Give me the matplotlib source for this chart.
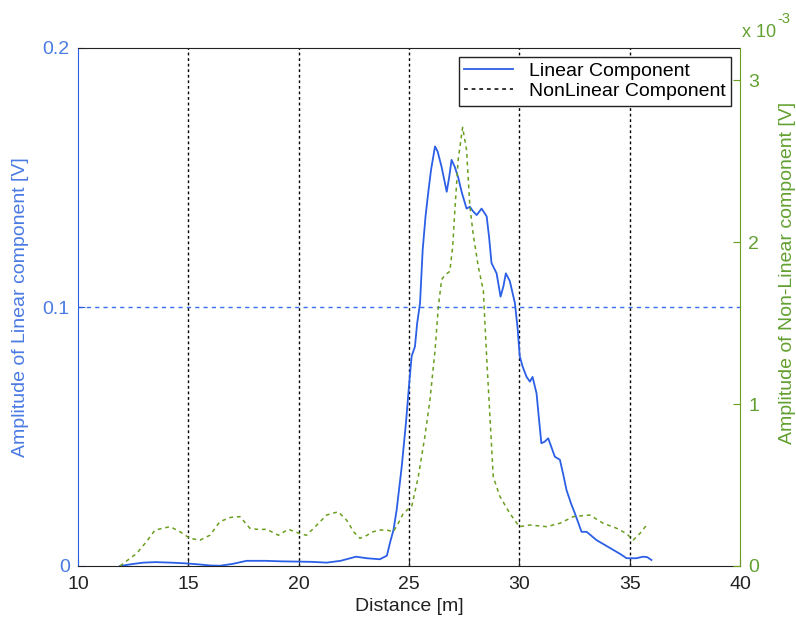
import matplotlib
matplotlib.use("Agg")
import matplotlib.pyplot as plt
from matplotlib.lines import Line2D

plt.rcParams['font.family'] = ['Liberation Sans', 'DejaVu Sans']

# ---- data ----
linear_x = [11.9, 12.5, 12.96, 13.5, 14.2, 14.92, 15.5, 16.0, 16.43, 17.0,
            17.64, 18.5, 19.2, 19.9, 20.6, 21.27, 21.9, 22.6, 23.08, 23.68,
            24.0, 24.14, 24.3, 24.44, 24.67, 24.86, 25.01, 25.12, 25.27, 25.37,
            25.5, 25.62, 25.75, 25.87, 26.0, 26.18, 26.3, 26.48, 26.6, 26.71,
            26.82, 26.93, 27.08, 27.23, 27.4, 27.61, 27.76, 27.9, 28.07, 28.29,
            28.52, 28.63, 28.74, 28.97, 29.15, 29.28, 29.39, 29.57, 29.8, 29.92,
            30.02, 30.15, 30.33, 30.48, 30.6, 30.78, 30.9, 31.0, 31.15, 31.31,
            31.45, 31.61, 31.84, 32.0, 32.14, 32.35, 32.52, 32.82, 33.05, 33.5,
            33.9, 34.26, 34.6, 34.86, 35.1, 35.31, 35.61, 35.8, 35.99]
linear_y = [0.0, 0.0008, 0.0013, 0.0015, 0.0013, 0.001, 0.0006, 0.0002, 0.0001, 0.0008,
            0.0020, 0.0020, 0.0018, 0.0017, 0.0016, 0.0013, 0.0020, 0.0036, 0.0030, 0.0026,
            0.004, 0.009, 0.014, 0.0216, 0.0383, 0.055, 0.0705, 0.081, 0.0847, 0.0937,
            0.1014, 0.122, 0.135, 0.144, 0.153, 0.162, 0.160, 0.154, 0.149, 0.1445,
            0.150, 0.1568, 0.154, 0.150, 0.144, 0.138, 0.1387, 0.137, 0.1355, 0.138,
            0.135, 0.127, 0.117, 0.113, 0.104, 0.108, 0.113, 0.110, 0.1015, 0.092,
            0.081, 0.077, 0.073, 0.0712, 0.073, 0.0667, 0.056, 0.0474, 0.048, 0.0493,
            0.046, 0.0422, 0.041, 0.035, 0.0293, 0.024, 0.0203, 0.0132, 0.0132, 0.010,
            0.008, 0.0062, 0.0045, 0.003, 0.003, 0.003, 0.0036, 0.0034, 0.0023]

# non-linear component, in units of 1e-3 V
nonlin_x = [11.9, 12.66, 13.1, 13.49, 14.17, 14.62, 15.07, 15.53, 15.98, 16.43,
            16.9, 17.34, 17.79, 18.2, 18.55, 19.08, 19.53, 20.06, 20.36, 20.8,
            21.27, 21.79, 22.17, 22.5, 22.78, 23.1, 23.38, 23.68, 24.0, 24.29,
            24.5, 24.74, 24.95, 25.12, 25.42, 25.72, 25.95, 26.18, 26.33, 26.48,
            26.65, 26.85, 26.98, 27.08, 27.23, 27.43, 27.61, 27.76, 27.91, 28.14,
            28.37, 28.52, 28.67, 28.82, 29.12, 29.57, 30.0, 30.48, 31.24, 31.84,
            32.45, 33.2, 33.8, 34.41, 34.86, 35.16, 35.46, 35.77]
nonlin_y = [0.0, 0.078, 0.15, 0.222, 0.243, 0.212, 0.171, 0.16, 0.19, 0.274,
            0.30, 0.305, 0.233, 0.225, 0.227, 0.19, 0.227, 0.2, 0.19, 0.25,
            0.315, 0.335, 0.284, 0.21, 0.171, 0.19, 0.212, 0.222, 0.222, 0.212,
            0.26, 0.325, 0.35, 0.366, 0.55, 0.80, 1.025, 1.33, 1.60, 1.77,
            1.80, 1.82, 1.97, 2.2, 2.51, 2.71, 2.57, 2.22, 2.05, 1.85,
            1.70, 1.29, 0.92, 0.55, 0.43, 0.325, 0.243, 0.253, 0.243, 0.264,
            0.305, 0.315, 0.264, 0.233, 0.2, 0.16, 0.2, 0.253]

x_ticks = [10, 15, 20, 25, 30, 35, 40]
left_ticks = [0, 0.1, 0.2]
left_tick_labels = ['0', '0.1', '0.2']
right_ticks = [0, 1, 2, 3]
grid_x = [15, 20, 25, 30, 35]
grid_y = [0.1]

BLUE = '#2b5fe6'
BLUE_TXT = '#4a7be3'
GREEN = '#6b9e1f'
GREEN_TXT = '#62a030'
FS = 14

fig = plt.figure(figsize=(7.96, 6.25), dpi=100)
ax = fig.add_axes([0.098, 0.0944, 0.8316, 0.8288])
ax2 = ax.twinx()

for gx in grid_x:
    ax.axvline(gx, color='black', ls=(0, (2, 2)), lw=1.0, zorder=1)
for gy in grid_y:
    ax.axhline(gy, color='#3a6ef0', ls=(0, (3, 3)), lw=1.0, zorder=1)

ax.plot(linear_x, linear_y, color=BLUE, lw=1.3, zorder=3)
ax2.plot(nonlin_x, nonlin_y, color=GREEN, lw=1.1, ls=(0, (2.5, 2.5)), zorder=3)

ax.set_xlim(10, 40)
ax.set_ylim(0, 0.2)
ax2.set_ylim(0, 3.2)
ax.set_xticks(x_ticks)
ax.set_xticklabels([str(v) for v in x_ticks])
ax.set_yticks(left_ticks)
ax.set_yticklabels(left_tick_labels)
ax2.set_yticks(right_ticks)
ax2.set_yticklabels([str(v) for v in right_ticks])

ax.tick_params(axis='x', direction='in', length=5, color='#222222',
               labelcolor='#222222', labelsize=FS, pad=7)
ax.tick_params(axis='y', direction='in', length=5, color=BLUE,
               labelcolor=BLUE_TXT, labelsize=FS, pad=6)
ax2.tick_params(axis='y', direction='in', length=5, color=GREEN,
                labelcolor=GREEN_TXT, labelsize=FS, pad=6)

ax.spines['left'].set_color(BLUE)
ax.spines['right'].set_visible(False)
ax.spines['top'].set_color('#222222')
ax.spines['bottom'].set_color('#222222')
ax2.spines['right'].set_color(GREEN)
ax2.spines['left'].set_visible(False)
ax2.spines['top'].set_visible(False)
ax2.spines['bottom'].set_visible(False)

ax.set_xlabel('Distance [m]', fontsize=FS, color='#222222', labelpad=4)
ax.set_ylabel('Amplitude of Linear component [V]', fontsize=FS, color=BLUE_TXT, labelpad=10)
ax2.set_ylabel('Amplitude of Non-Linear component [V]', fontsize=FS, color=GREEN_TXT,
               rotation=90, labelpad=14, y=0.566)

fig.text(0.932, 0.941, 'x 10', fontsize=13, color=GREEN_TXT, ha='left', va='baseline')
fig.text(0.976, 0.963, '-3', fontsize=10.5, color=GREEN_TXT, ha='left', va='baseline')

handles = [Line2D([], [], color=BLUE, lw=1.3),
           Line2D([], [], color='black', lw=1.1, ls=(0, (2.5, 2.5)))]
leg = ax.legend(handles, ['Linear Component', 'NonLinear Component'],
                loc='upper right', fontsize=FS, frameon=True, fancybox=False,
                framealpha=1, edgecolor='#222222', borderpad=0.3,
                labelspacing=0.1, handlelength=2.5, handletextpad=0.8,
                borderaxespad=0.45)
leg.get_frame().set_linewidth(1.0)
leg.set_zorder(10)

fig.savefig('out.png', dpi=100)
